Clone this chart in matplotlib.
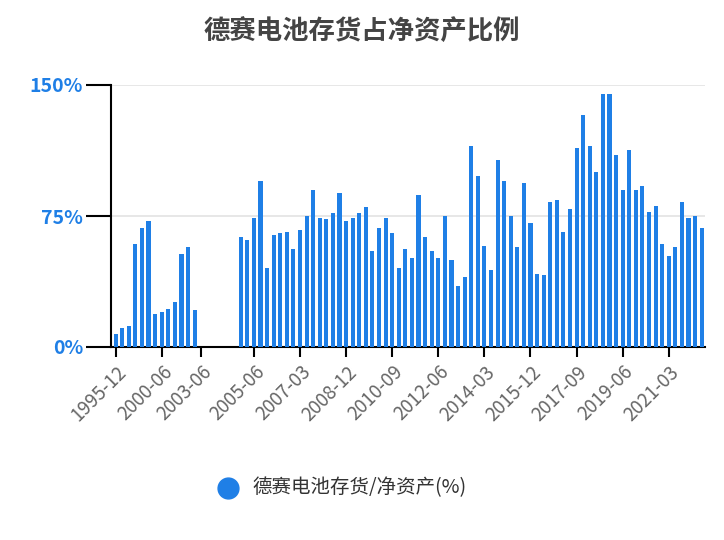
import numpy as np
import matplotlib.pyplot as plt

plt.rcParams['font.family'] = ['Noto Sans CJK SC', 'DejaVu Sans']

# early periods (annual / semi-annual), then a gap, then quarterly from 2004-12
early_dates = ['1995-12', '1996-06', '1996-12', '1997-06', '1997-12', '1998-12', '1999-12',
               '2000-06', '2000-12', '2001-06', '2001-12', '2002-06', '2002-12']
early_values = [7.5, 11, 12, 59, 68, 72, 19, 20, 22, 26, 53, 57, 21]
gap_dates = ['2003-06', '2003-09', '2003-12', '2004-03', '2004-06', '2004-09']
quarterly_values = [63, 61.5, 74, 95, 45, 64, 65, 66, 56, 67, 75, 90, 74, 73, 76.5, 88,
                    72, 74, 76.5, 80, 55, 68, 74, 65, 45, 56,
                    51, 87, 63, 55, 51, 75, 50, 35, 40, 115, 98, 58, 44, 107, 95, 75,
                    57, 94, 71, 42, 41, 83, 84, 66, 79, 114, 133, 115, 100, 145, 145,
                    110, 90, 113, 90, 92, 77.5, 81, 59, 52, 57, 83, 74, 75, 68]


def quarter_labels(start_year, start_month, n):
    out = []
    y, m = start_year, start_month
    for _ in range(n):
        out.append(f"{y}-{m:02d}")
        m += 3
        if m > 12:
            m -= 12
            y += 1
    return out


dates = early_dates + gap_dates + quarter_labels(2004, 12, len(quarterly_values))
values = early_values + [np.nan] * len(gap_dates) + quarterly_values
label_idx = [0, 7, 13] + list(range(21, len(dates), 7))

blue = '#1F7FE6'
fig = plt.figure(figsize=(7.24, 5.4), dpi=100)
ax = fig.add_axes([111 / 724, 1 - 347 / 540, 594 / 724, 262 / 540])
x = np.arange(len(values))
ax.bar(x, values, width=0.62, color=blue, zorder=3)
ax.set_xlim(-0.7, len(values) - 0.5)
ax.set_ylim(0, 150)
ax.set_yticks([0, 75, 150])
ax.set_yticklabels(['0%', '75%', '150%'], color=blue, fontsize=14, fontweight='bold')
ax.yaxis.grid(True, color='#e3e3e3', lw=1.2, zorder=0)
ax.set_xticks(label_idx)
ax.set_xticklabels([dates[i] for i in label_idx], rotation=45, ha='right',
                   rotation_mode='anchor', fontsize=13.5, color='#666666')
ax.tick_params(axis='x', length=7, width=1.5)
ax.tick_params(axis='y', length=18, width=1.5, pad=2)
for s in ['top', 'right']:
    ax.spines[s].set_visible(False)
for s in ['left', 'bottom']:
    ax.spines[s].set_linewidth(1.5)

fig.text(0.5, 1 - 32 / 540, '德赛电池存货占净资产比例', ha='center', va='center',
         fontsize=19, fontweight='bold', color='#444444')
fig.add_artist(plt.Line2D([228 / 724], [1 - 488 / 540], marker='o', markersize=15,
                          color=blue, transform=fig.transFigure))
fig.text(252 / 724, 1 - 488 / 540, '德赛电池存货/净资产(%)', ha='left', va='center',
         fontsize=14, color='#333333')

fig.savefig('out.png', dpi=100)
